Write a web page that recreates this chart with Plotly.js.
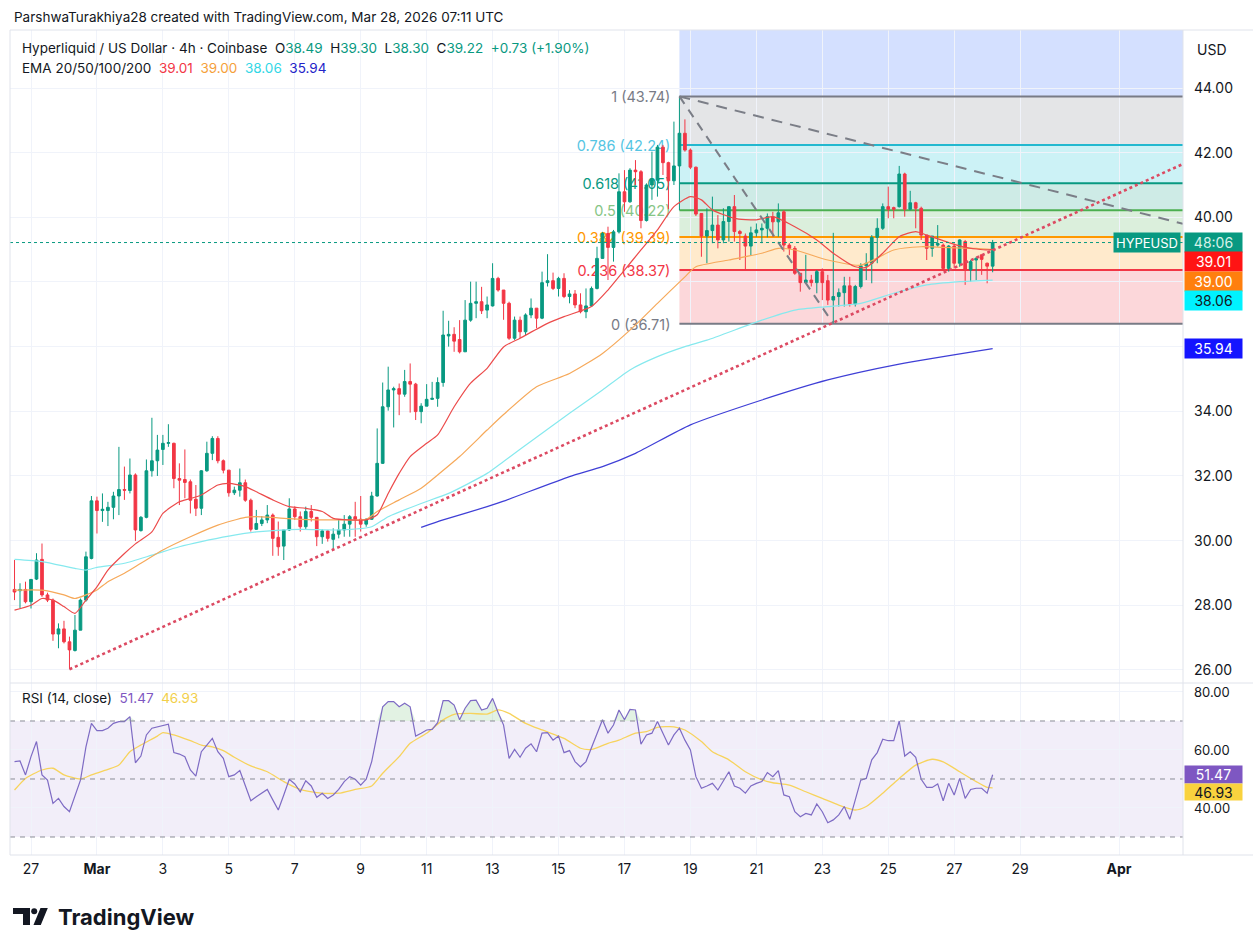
<!DOCTYPE html>
<html><head><meta charset="utf-8">
<script src="https://cdn.plot.ly/plotly-3.0.1.min.js"></script>
<style>html,body{margin:0;padding:0;background:#fff}</style>
</head><body><div id="chart" style="width:1253px;height:952px"></div>
<script>
// ---------------- DATA ----------------
const OPEN = [28.49,28.45,28.49,28.11,28.81,29.42,28.32,28.16,27.11,27.27,
26.87,26.60,27.23,28.16,29.45,31.23,30.93,30.93,31.03,31.38,
31.58,31.55,32.03,30.31,30.72,32.16,32.47,32.82,33.01,33.01,
31.92,31.89,31.82,31.28,31.00,32.16,32.70,33.16,32.47,32.18,
31.48,31.56,31.79,31.25,30.35,30.53,30.64,30.79,30.10,29.83,
30.33,30.98,30.74,30.43,30.90,30.72,30.12,30.30,30.04,30.20,
30.33,30.51,30.74,30.66,30.51,30.66,31.38,32.39,34.14,34.66,
34.70,34.53,34.92,34.84,33.99,34.16,34.37,34.40,34.89,36.33,
36.38,36.22,35.84,36.82,37.34,37.39,37.13,37.26,38.11,37.75,
37.34,36.26,36.82,36.46,36.98,37.19,36.88,37.98,38.04,37.80,
38.11,37.55,37.63,37.29,37.08,37.26,37.80,38.73,39.50,39.07,
39.55,40.79,40.48,41.46,41.41,39.90,41.00,41.15,42.17,41.69,
41.13,41.59,42.60,42.08,41.55,40.12,39.42,39.59,39.76,39.30,
39.87,40.33,39.56,39.42,39.11,39.52,39.61,39.66,40.02,39.86,
40.17,39.14,39.04,38.27,37.98,38.06,37.98,38.32,38.04,37.44,
37.55,37.67,37.88,37.32,37.86,38.50,38.58,39.38,39.66,40.33,
40.30,40.33,41.34,40.25,40.45,40.28,39.45,39.04,39.14,39.14,
38.42,39.11,38.58,39.25,38.37,38.68,38.84,38.58,38.49];
const HIGH = [29.40,28.68,28.73,28.81,29.61,29.91,28.39,28.21,27.44,27.52,
27.03,27.70,28.21,29.66,31.38,31.36,31.46,31.20,31.51,32.90,
32.29,32.54,32.08,30.76,32.51,33.80,33.27,33.27,33.60,33.03,
32.39,32.82,31.89,31.72,32.18,33.06,33.23,33.23,32.51,32.18,
31.67,32.23,31.89,31.30,30.95,30.76,31.10,30.84,30.59,30.33,
31.31,31.06,30.90,31.05,31.10,30.72,30.35,30.33,30.38,30.64,
30.79,30.79,31.20,31.38,30.69,31.51,33.47,34.89,35.38,34.76,
34.86,35.28,35.48,34.88,34.25,34.84,34.91,35.05,37.11,36.80,
36.60,36.82,37.44,38.01,38.01,37.85,37.55,38.58,38.16,37.75,
37.39,36.93,36.93,37.03,37.49,37.19,38.32,38.86,38.29,38.16,
38.27,37.75,37.75,37.65,37.80,37.86,39.09,39.55,39.71,39.61,
41.36,41.46,41.52,41.77,41.46,41.05,42.03,42.24,42.24,41.72,
42.96,43.74,43.03,42.13,41.57,40.12,40.28,40.64,40.07,40.28,
40.33,40.69,39.61,39.50,39.71,39.81,39.81,40.12,40.17,40.43,
40.22,39.20,39.11,38.27,38.84,38.22,38.37,38.42,38.22,39.52,
37.80,38.16,38.16,37.91,38.58,38.89,39.45,39.97,40.43,40.95,
40.33,41.59,41.38,40.82,40.48,40.33,39.45,39.42,39.76,39.19,
39.14,39.19,39.32,39.30,38.68,38.78,38.84,38.60,39.30];
const LOW = [28.16,27.90,28.06,27.90,28.78,28.26,28.10,26.90,26.67,26.82,
26.02,26.57,27.23,28.11,29.42,30.22,30.58,30.45,30.66,30.79,
31.26,31.46,29.99,30.28,30.69,31.98,32.00,32.34,32.90,31.62,
31.10,31.31,30.84,30.76,30.79,32.13,32.49,32.39,32.08,31.36,
31.41,31.36,31.20,30.28,30.33,30.45,30.54,29.53,29.53,29.40,
30.30,30.64,30.28,30.33,30.59,29.83,29.90,29.97,29.73,30.07,
30.12,30.12,30.12,30.28,30.43,30.64,31.36,32.37,34.02,33.50,
33.88,34.45,33.96,33.73,33.63,34.16,34.35,34.14,34.76,36.00,
35.84,35.79,35.84,36.77,36.88,37.01,36.88,37.24,37.70,36.83,
36.21,36.21,36.26,36.36,36.88,36.57,36.85,37.86,37.75,37.55,
37.50,37.34,37.19,37.03,36.88,37.24,37.77,38.73,38.06,38.63,
39.50,40.17,40.45,41.00,39.66,39.87,40.54,40.64,41.31,40.25,
41.00,40.22,42.03,41.49,40.04,38.78,38.58,39.20,39.04,39.20,
39.25,39.25,38.68,38.37,38.83,39.40,39.20,39.38,39.40,39.40,
38.94,38.83,38.22,37.70,37.94,37.86,37.65,37.44,37.29,36.71,
37.24,37.24,37.24,37.24,37.80,38.06,37.96,38.58,39.61,39.97,
39.97,40.30,40.02,40.22,39.66,39.30,38.68,38.78,39.09,38.37,
38.32,38.42,38.47,37.91,38.01,38.06,38.22,37.96,38.30];
const CLOSE = [28.41,28.49,28.11,28.80,29.40,28.32,28.16,27.11,27.27,26.87,
26.62,27.23,28.16,29.50,31.23,30.93,30.97,31.03,31.38,31.58,
31.56,32.03,30.33,30.72,32.16,32.47,32.80,33.01,33.03,31.92,
31.87,31.80,31.25,31.00,32.16,32.70,33.16,32.47,32.18,31.48,
31.56,31.79,31.25,30.35,30.53,30.64,30.79,30.07,29.81,30.33,
30.98,30.74,30.43,30.90,30.72,30.12,30.30,30.07,30.20,30.33,
30.51,30.74,30.66,30.51,30.66,31.38,32.39,34.14,34.66,34.70,
34.53,34.92,34.84,33.99,34.16,34.37,34.40,34.89,36.36,36.38,
36.17,35.84,36.82,37.34,37.39,37.11,37.29,38.11,37.75,37.34,
36.26,36.82,36.46,36.98,37.19,36.88,37.98,38.04,37.80,38.11,
37.55,37.63,37.29,37.08,37.26,37.80,38.73,39.50,39.07,39.55,
40.79,40.48,41.46,41.41,39.90,41.00,41.18,42.17,41.69,41.13,
41.59,42.60,42.08,41.55,40.10,39.42,39.59,39.76,39.30,39.87,
40.33,39.56,39.50,39.11,39.52,39.61,39.66,40.02,39.86,40.14,
39.14,39.04,38.27,37.98,38.06,37.98,38.32,37.98,37.44,37.55,
37.67,37.88,37.32,37.86,38.50,38.58,39.38,39.66,40.33,40.25,
40.25,41.34,40.25,40.45,40.28,39.45,39.04,39.42,39.19,38.42,
39.11,38.58,39.30,38.37,38.63,38.73,38.70,38.49,39.22];

// EMA lines: candle index -> value
const EMA20_IDX = [0,3,5,7,9,11,13,15,17,20,22,25,27,30,32,34,37,39,42,44,47,50,53,56,58,61,64,66,68,70,72,75,77,80,83,86,89,92,97,100,105,108,111,114,117,120,123,125,127,131,135,138,142,146,149,153,155,158,161,164,166,170,173,177,178];
const EMA20_VAL = [27.85,28.0,28.21,28.16,27.96,27.75,28.16,28.57,29.09,29.6,29.9,30.27,30.84,31.2,31.3,31.41,31.72,31.77,31.67,31.51,31.26,31.05,31.0,30.9,30.69,30.64,30.64,30.8,31.46,32.08,32.6,33.01,33.27,34.14,34.87,35.33,35.99,36.26,36.72,36.93,37.24,37.75,38.37,38.99,39.61,40.33,40.64,40.54,40.23,39.97,39.92,40.02,39.71,39.30,38.89,38.47,38.45,38.89,39.40,39.56,39.45,39.22,39.07,38.99,39.01];
const EMA50_IDX = [0,5,9,11,13,15,17,20,23,27,32,37,42,44,52,59,64,66,70,74,77,81,86,89,95,101,107,112,117,122,124,130,136,139,142,148,154,160,165,169,175,178];
const EMA50_VAL = [28.47,28.47,28.32,28.21,28.32,28.47,28.73,28.99,29.3,29.71,30.12,30.48,30.72,30.74,30.66,30.64,30.66,30.9,31.26,31.62,32.03,32.6,33.42,33.9,34.76,35.17,35.79,36.51,37.34,38.16,38.47,38.68,38.89,39.04,38.99,38.68,38.52,38.99,39.09,39.07,39.04,39.00];
const EMA100_IDX = [0,5,11,13,15,20,25,30,34,39,44,52,59,65,68,74,79,86,89,95,101,107,112,117,122,126,136,142,148,154,160,166,172,178];
const EMA100_VAL = [29.42,29.35,29.14,29.09,29.17,29.3,29.55,29.81,29.97,30.14,30.27,30.35,30.33,30.43,30.74,31.15,31.46,32.08,32.45,33.2,33.94,34.66,35.28,35.69,36.0,36.2,36.82,37.13,37.24,37.34,37.65,37.91,38.01,38.06];
const EMA200_IDX = [74,78,86,89,101,107,113,123,136,148,161,178];
const EMA200_VAL = [30.41,30.64,31.05,31.22,31.98,32.29,32.70,33.58,34.35,34.97,35.46,35.94];

// RSI(14) per candle
const RSI = [56.0,56.2,51.4,57.7,62.9,51.4,49.6,41.6,43.3,40.5,
38.7,43.9,49.6,61.1,69.2,66.7,66.7,67.5,69.2,69.8,
69.8,71.5,55.6,57.9,65.2,67.5,68.0,68.6,68.9,59.1,
58.6,57.7,53.1,51.0,59.4,61.7,64.0,59.4,57.1,50.8,
51.4,52.9,47.6,42.5,43.9,45.1,46.4,42.8,39.3,44.5,
49.9,48.3,45.6,49.4,47.6,43.7,45.1,43.3,44.5,46.4,
49.1,50.8,49.9,47.9,49.9,56.0,65.8,74.9,76.7,76.7,
74.9,76.1,74.9,64.8,65.8,66.9,67.1,69.4,77.0,77.0,
75.5,70.4,74.4,77.0,77.2,73.8,74.4,77.8,72.9,68.6,
57.1,60.2,57.5,60.6,62.1,59.4,65.8,66.0,63.4,64.8,
59.1,59.8,56.0,54.2,56.0,60.6,65.8,70.4,65.8,68.6,
73.8,70.4,74.0,73.8,62.0,65.2,65.8,69.8,65.8,61.7,
65.2,67.5,63.4,60.0,50.8,46.8,47.6,48.5,46.2,49.6,
52.5,47.6,46.8,45.1,47.6,48.5,49.1,52.2,50.8,52.9,
44.5,43.9,38.7,37.0,38.1,37.6,41.4,38.7,34.9,35.9,
37.6,40.5,36.1,42.8,49.6,50.2,56.6,59.1,63.7,63.2,
63.2,70.0,57.9,59.4,57.5,49.9,47.1,47.1,48.3,42.5,
48.5,44.5,50.2,43.3,46.4,46.8,46.8,45.1,51.47];
// RSI-based MA: candle index -> value
const RSIMA_IDX = [0,2,5,7,9,12,14,17,19,21,23,26,27,29,32,34,36,38,40,43,46,49,52,55,59,62,65,67,70,72,75,78,80,83,86,88,90,93,96,100,103,105,108,110,113,115,117,120,122,125,127,130,133,136,138,141,144,147,150,153,155,158,161,164,167,169,172,175,177,178];
const RSIMA_VAL = [46.2,50.2,53.1,53.7,51.4,50.0,51.4,53.3,54.8,59.4,61.7,64.8,66.0,65.2,63.2,61.7,61.1,59.8,57.5,54.5,52.5,49.1,46.4,45.3,45.1,46.4,47.6,52.0,57.7,62.3,65.8,70.4,72.3,72.6,72.4,73.8,72.6,69.2,66.9,64.0,60.6,60.2,62.3,63.4,65.8,66.3,67.8,68.0,66.9,62.9,59.4,56.6,52.5,49.7,48.7,47.9,45.6,43.3,41.0,39.3,40.5,45.1,50.2,54.8,56.8,55.9,52.5,49.1,47.1,46.93];

// Fibonacci retracement
const FIB_LEVELS = [1, 0.786, 0.618, 0.5, 0.382, 0.236, 0];
const FIB_PRICES = [43.74, 42.24, 41.05, 40.22, 39.39, 38.37, 36.71];
const FIB_START_IDX = 121;      // swing high candle
const FIB_END_IDX = 149;        // swing low candle
const FIB_EXT_PRICE = 48.08;    // 1.618 level (off chart)

// Trend lines (drawn tools)
const UPTREND_START_IDX = 10, UPTREND_START = 26.02, UPTREND_END = 41.65;
const DOWNTREND_END = 39.80;

// Axis ticks
const X_TICK_DATES = ['2026-02-27','2026-03-01','2026-03-03','2026-03-05','2026-03-07','2026-03-09','2026-03-11','2026-03-13','2026-03-15','2026-03-17','2026-03-19','2026-03-21','2026-03-23','2026-03-25','2026-03-27','2026-03-29','2026-04-01'];
const X_TICK_TEXT = ['27','<b>Mar</b>','3','5','7','9','11','13','15','17','19','21','23','25','27','29','<b>Apr</b>'];
const PRICE_TICKS = [26,28,30,32,34,36,38,40,42,44];
const PRICE_TICKS_HIDDEN = [36,38];
const RSI_TICKS = [40,60,80];
const RSI_BANDS = [70,50,30];
const COUNTDOWN = '48:06';

// ---------------- LAYOUT HELPERS ----------------
const W=1253,H=952, ML=10, MR=70, MT=30, MB=97;
const PW=W-ML-MR, PH=H-MT-MB;
const px2x = px => (px-ML)/PW;
const px2y = py => (H-MB-py)/PH;
const HOUR=3600e3, DAY=24*HOUR;
const T0 = Date.UTC(2026,1,26,12);
const tOf = i => T0 + i*4*HOUR;
const FEB27 = Date.UTC(2026,1,27);
const XR = [FEB27 - 0.637*DAY, FEB27 + 34.94*DAY];
const MAIN_TOP=30, MAIN_BOT=683, RSI_BOT=855;
const YMAIN=[25.596,45.794], YRSI=[23.79,83.10];
const split = (RSI_BOT-MAIN_BOT)/PH;
const priceToPx = v => MAIN_TOP + (YMAIN[1]-v)/(YMAIN[1]-YMAIN[0])*(MAIN_BOT-MAIN_TOP);
const rsiToPx = v => MAIN_BOT + (YRSI[1]-v)/(YRSI[1]-YRSI[0])*(RSI_BOT-MAIN_BOT);
const FONT = 'Inter, "Noto Sans", sans-serif';
const TXT = '#131722';
const f2 = v => v.toFixed(2);
const N = CLOSE.length, last = N-1;
const times = CLOSE.map((_,i)=>tOf(i));

// ---------------- TRACES ----------------
const traces = [];
traces.push({type:'candlestick', x:times, open:OPEN, high:HIGH, low:LOW, close:CLOSE,
  xaxis:'x', yaxis:'y', whiskerwidth:0, hoverinfo:'skip', showlegend:false,
  increasing:{line:{color:'#089981',width:1}, fillcolor:'#089981'},
  decreasing:{line:{color:'#f23645',width:1}, fillcolor:'#f23645'}});
const emaLine = (idx,val,color)=>({type:'scatter',mode:'lines',x:idx.map(tOf),y:val,
  xaxis:'x',yaxis:'y',line:{color:color,width:1.2,shape:'spline',smoothing:0.6},hoverinfo:'skip',showlegend:false});
traces.push(emaLine(EMA200_IDX,EMA200_VAL,'#3f3fd6'));
traces.push(emaLine(EMA100_IDX,EMA100_VAL,'#86e9ee'));
traces.push(emaLine(EMA50_IDX,EMA50_VAL,'#f6a95a'));
traces.push(emaLine(EMA20_IDX,EMA20_VAL,'#ec4b4b'));
// RSI overbought fill
traces.push({type:'scatter',mode:'lines',x:times,y:RSI.map(()=>RSI_BANDS[0]),xaxis:'x',yaxis:'y2',line:{width:0},hoverinfo:'skip',showlegend:false});
traces.push({type:'scatter',mode:'lines',x:times,y:RSI.map(v=>Math.max(v,RSI_BANDS[0])),xaxis:'x',yaxis:'y2',line:{width:0},fill:'tonexty',fillcolor:'rgba(76,175,80,0.16)',hoverinfo:'skip',showlegend:false});
traces.push({type:'scatter',mode:'lines',x:RSIMA_IDX.map(tOf),y:RSIMA_VAL,xaxis:'x',yaxis:'y2',line:{color:'#f7d35c',width:1.3,shape:'spline',smoothing:0.6},hoverinfo:'skip',showlegend:false});
traces.push({type:'scatter',mode:'lines',x:times,y:RSI,xaxis:'x',yaxis:'y2',line:{color:'#7e6bc4',width:1.2},hoverinfo:'skip',showlegend:false});

// ---------------- SHAPES ----------------
const shapes = [];
const FIB_LINE = ['#787b86','#22b8cf','#089981','#4caf50','#ff9800','#f23645','#787b86'];
const FIB_ZONE = ['rgba(120,123,134,0.2)','rgba(0,188,212,0.2)','rgba(8,153,129,0.2)','rgba(76,175,80,0.2)','rgba(255,152,0,0.2)','rgba(242,54,69,0.2)'];
const FIB_LABEL = ['#787b86','#55c5e3','#089981','#86c586','#ff9800','#f23645','#787b86'];
const fx0 = tOf(FIB_START_IDX), fx1 = XR[1];
shapes.push({type:'rect',xref:'x',yref:'y',x0:fx0,x1:fx1,y0:FIB_PRICES[0],y1:FIB_EXT_PRICE,fillcolor:'rgba(41,98,255,0.2)',line:{width:0},layer:'below'});
for(let k=0;k<FIB_PRICES.length-1;k++){
  shapes.push({type:'rect',xref:'x',yref:'y',x0:fx0,x1:fx1,y0:FIB_PRICES[k+1],y1:FIB_PRICES[k],fillcolor:FIB_ZONE[k],line:{width:0},layer:'below'});
}
FIB_PRICES.forEach((p,k)=>{
  shapes.push({type:'line',xref:'x',yref:'y',x0:fx0,x1:fx1,y0:p,y1:p,line:{color:FIB_LINE[k],width:2},layer:'between',
    label:{text:`${FIB_LEVELS[k]} (${f2(p)})`,textposition:'start',textangle:0,xanchor:'right',yanchor:'middle',padding:9,
      font:{family:FONT,size:14.5,color:FIB_LABEL[k]}}});
});
// fib trend line (high -> low)
shapes.push({type:'line',xref:'x',yref:'y',x0:fx0,y0:HIGH[FIB_START_IDX],x1:tOf(FIB_END_IDX),y1:LOW[FIB_END_IDX],line:{color:'#7b7e87',width:2,dash:'9px,7px'}});
// descending dashed trend line
shapes.push({type:'line',xref:'x',yref:'y',x0:fx0,y0:HIGH[FIB_START_IDX],x1:fx1,y1:DOWNTREND_END,line:{color:'#7b7e87',width:2,dash:'11px,8px'}});
// ascending dotted trend line
shapes.push({type:'line',xref:'x',yref:'y',x0:tOf(UPTREND_START_IDX),y0:UPTREND_START,x1:fx1,y1:UPTREND_END,line:{color:'#dc4a62',width:2.6,dash:'dot'}});
// last price line
shapes.push({type:'line',xref:'paper',yref:'y',x0:0,x1:1,y0:CLOSE[last],y1:CLOSE[last],line:{color:'#089981',width:1,dash:'dot'}});
// RSI band
shapes.push({type:'rect',xref:'paper',yref:'y2',x0:0,x1:1,y0:RSI_BANDS[2],y1:RSI_BANDS[0],fillcolor:'rgba(126,87,194,0.1)',line:{width:0},layer:'below'});
RSI_BANDS.forEach(v=>shapes.push({type:'line',xref:'paper',yref:'y2',x0:0,x1:1,y0:v,y1:v,line:{color:'#8a8d96',width:1,dash:'5px,5px'}}));
// pane borders
const hl = (py,x0p,x1p)=>shapes.push({type:'line',xref:'paper',yref:'paper',x0:px2x(x0p),x1:px2x(x1p),y0:px2y(py),y1:px2y(py),line:{color:'#e0e3eb',width:1}});
hl(MAIN_TOP,ML,W); hl(MAIN_BOT,ML,W); hl(RSI_BOT,ML,W);
shapes.push({type:'line',xref:'paper',yref:'paper',x0:1,x1:1,y0:px2y(MAIN_TOP),y1:px2y(RSI_BOT),line:{color:'#e0e3eb',width:1}});
shapes.push({type:'line',xref:'paper',yref:'paper',x0:0,x1:0,y0:px2y(MAIN_TOP),y1:px2y(RSI_BOT),line:{color:'#e0e3eb',width:1}});
// TradingView logo mark
const P = (pts)=>'M'+pts.map(([a,b])=>px2x(a).toFixed(5)+','+px2y(b).toFixed(5)).join(' L')+' Z';
shapes.push({type:'path',xref:'paper',yref:'paper',path:P([[13,908],[30,908],[30,925],[23,925],[23,914],[13,914]]),fillcolor:TXT,line:{width:0}});
shapes.push({type:'circle',xref:'paper',yref:'paper',x0:px2x(31.2),x1:px2x(37.2),y0:px2y(914.2),y1:px2y(908.2),fillcolor:TXT,line:{width:0}});
shapes.push({type:'path',xref:'paper',yref:'paper',path:P([[40.5,908],[47.8,908],[40.8,925],[33.5,925]]),fillcolor:TXT,line:{width:0}});

// ---------------- ANNOTATIONS ----------------
const ann = [];
const txt = (px,py,text,size,opts={})=>ann.push(Object.assign({xref:'paper',yref:'paper',x:px2x(px),y:px2y(py),text:text,showarrow:false,xanchor:'left',yanchor:'middle',font:{family:FONT,size:size,color:TXT}},opts));
txt(12,17,'ParshwaTurakhiya28 created with TradingView.com, Mar 28, 2026 07:11 UTC',13.5);
const G = s=>`<span style="color:#089981">${s}</span>`;
const chg = CLOSE[last]-CLOSE[last-1], pct = chg/CLOSE[last-1]*100;
const sp = '&nbsp;&nbsp;';
txt(20,48,`Hyperliquid / US Dollar · 4h · Coinbase${sp}O${G(f2(OPEN[last]))}${sp}H${G(f2(HIGH[last]))}${sp}L${G(f2(LOW[last]))}${sp}C${G(f2(CLOSE[last]))}${sp}${G((chg>=0?'+':'')+f2(chg)+' ('+(pct>=0?'+':'')+f2(pct)+'%)')}`,13.5);
const e20=EMA20_VAL[EMA20_VAL.length-1], e50=EMA50_VAL[EMA50_VAL.length-1], e100=EMA100_VAL[EMA100_VAL.length-1], e200=EMA200_VAL[EMA200_VAL.length-1];
txt(20,68,`EMA 20/50/100/200${sp}<span style="color:#f23645">${f2(e20)}</span>${sp}<span style="color:#f5a03a">${f2(e50)}</span>${sp}<span style="color:#32d7e6">${f2(e100)}</span>${sp}<span style="color:#2323c8">${f2(e200)}</span>`,13.5);
const rLast = RSI[last], rmLast = RSIMA_VAL[RSIMA_VAL.length-1];
txt(20,698,`RSI (14, close)${sp}<span style="color:#7e57c2">${f2(rLast)}</span>${sp}<span style="color:#f2cf4a">${f2(rmLast)}</span>`,13.5);
txt(1212,49,'USD',14,{xanchor:'center'});
txt(56,917,'<b>TradingView</b>',22);

// right-axis value boxes (stacked like TradingView)
function box(py,text,bg,color,h,fs){
  ann.push({xref:'paper',yref:'paper',x:1,y:px2y(py),xanchor:'left',yanchor:'middle',xshift:1,text:text,showarrow:false,
    bgcolor:bg,borderpad:2,width:53,height:h||15,align:'center',font:{family:FONT,size:fs||14,color:color}});
}
const pBoxes = [
  {v:CLOSE[last], t:COUNTDOWN, bg:'#089981', c:'#d6f2e9'},
  {v:e20, t:f2(e20), bg:'#ff1414', c:'#ffffff'},
  {v:e50, t:f2(e50), bg:'#ff7f0e', c:'#ffffff'},
  {v:e100, t:f2(e100), bg:'#00f2ff', c:TXT},
  {v:e200, t:f2(e200), bg:'#1414ff', c:'#ffffff'}];
let prev=-1e9;
pBoxes.forEach(b=>{ let py=Math.max(priceToPx(b.v),prev+19.3); prev=py; box(py,b.t,b.bg,b.c); b.py=py; });
ann.push({xref:'paper',yref:'paper',x:1,y:px2y(pBoxes[0].py),xanchor:'right',yanchor:'middle',xshift:-2,text:'HYPEUSD',showarrow:false,
  bgcolor:'#089981',borderpad:2,width:62,height:15,align:'center',font:{family:FONT,size:13,color:'#ffffff'}});
const r1 = rsiToPx(rLast); const r2 = Math.max(rsiToPx(rmLast), r1+17.5);
box(r1,f2(rLast),'#7e57c2','#ffffff',13,14);
box(r2,f2(rmLast),'#f9d23e',TXT,12,14);

// ---------------- LAYOUT ----------------
const layout = {
  width:W,height:H,margin:{l:ML,r:MR,t:MT,b:MB},paper_bgcolor:'#ffffff',plot_bgcolor:'#ffffff',
  showlegend:false,font:{family:FONT,size:13,color:TXT},
  xaxis:{type:'date',range:XR,anchor:'y2',tickvals:X_TICK_DATES,ticktext:X_TICK_TEXT,showgrid:true,gridcolor:'#f0f3fa',
    zeroline:false,showline:false,ticks:'',ticklabelstandoff:4,tickfont:{family:FONT,size:14,color:TXT},rangeslider:{visible:false},fixedrange:true},
  yaxis:{domain:[split,1],range:YMAIN,side:'right',anchor:'x',tickvals:PRICE_TICKS,
    ticktext:PRICE_TICKS.map(v=>PRICE_TICKS_HIDDEN.includes(v)?'':f2(v)),showgrid:true,gridcolor:'#f0f3fa',zeroline:false,showline:false,ticks:'',
    ticklabelstandoff:10,tickfont:{family:FONT,size:14,color:TXT}},
  yaxis2:{domain:[0,split],range:YRSI,side:'right',anchor:'x',tickvals:RSI_TICKS,ticktext:RSI_TICKS.map(f2),showgrid:true,gridcolor:'#f0f3fa',
    zeroline:false,showline:false,ticks:'',ticklabelstandoff:10,tickfont:{family:FONT,size:13,color:TXT}},
  shapes:shapes, annotations:ann
};
Plotly.newPlot('chart',traces,layout,{displayModeBar:false,staticPlot:true});
</script></body></html>
